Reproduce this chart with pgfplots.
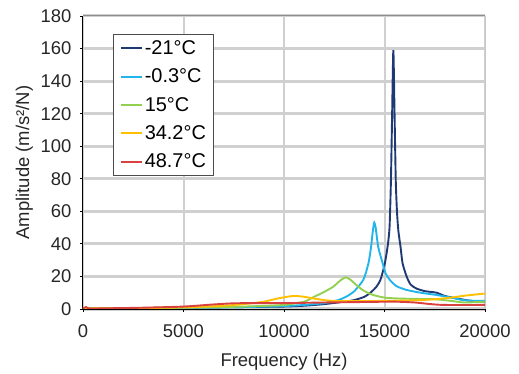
\documentclass[border=0pt]{standalone}
\usepackage{fontspec}
\setmainfont{Liberation Sans}
\usepackage{pgfplots}
\pgfplotsset{compat=1.18}
\definecolor{cNavy}{HTML}{1F3A73}
\definecolor{cLight}{HTML}{22B5EB}
\definecolor{cGreen}{HTML}{92D050}
\definecolor{cOrange}{HTML}{FFC000}
\definecolor{cRed}{HTML}{D9413E}
\definecolor{cGrid}{HTML}{D0D0D0}
\begin{document}
\begin{tikzpicture}
\begin{axis}[
  scale only axis,
  width=402bp, height=293bp,
  xmin=0, xmax=20000, ymin=0, ymax=180,
  xtick={0,5000,10000,15000,20000},
  ytick={0,20,...,180},
  scaled x ticks=false,
  /pgf/number format/1000 sep={},
  /pgf/number format/assume math mode=true,
  tick label style={font=\fontsize{18.5}{20}\selectfont, color=black!85},
  xticklabel style={yshift=-9bp},
  yticklabel style={xshift=-5bp},
  label style={font=\fontsize{18.5}{20}\selectfont, color=black!85},
  xlabel={Frequency (Hz)},
  ylabel={Amplitude (m/s²/N)},
  xlabel style={yshift=-9bp},
  ylabel style={yshift=1bp},
  xmajorgrids=true, ymajorgrids=true,
  x grid style={cGrid, line width=2bp},
  y grid style={cGrid, line width=3bp},
  axis x line*=bottom, axis y line*=left,
  axis line style={black, line width=1bp},
  tick align=outside,
  major tick length=3bp,
  tick style={black, line width=0.8bp},
  legend style={at={(0.0754,0.9386)}, anchor=north west, draw=black!70, line width=1bp,
    font=\fontsize{20}{22}\selectfont, row sep=9bp, inner xsep=6bp, inner ysep=4bp},
  legend cell align=left,
  legend image code/.code={\draw[#1, line width=2bp] (0bp,0bp) -- (21bp,0bp);},
  every axis plot/.append style={line width=1.9bp, smooth, tension=0.4},
]
\draw[black!45, line width=1bp] (rel axis cs:0,1) -- (rel axis cs:1,1) -- (rel axis cs:1,0);
\addplot[cNavy] coordinates {
(0,0.3) (2000,0.5) (5000,0.8) (8000,1.2) (10000,1.5) (11000,2) (12000,3) (13000,4.5)
(13500,5.5) (14000,7.5) (14300,10) (14600,13.7) (14800,18) (15000,27) (15150,38)
(15250,50) (15320,79) (15380,120) (15440,159) (15500,120) (15560,79) (15620,60)
(15690,48) (15800,38) (15900,28) (16100,20) (16300,15) (16600,12.5) (17000,11)
(17300,10.5) (17600,10) (18000,8) (18600,6.5) (19300,5) (20000,4.5)};
\addlegendentry{-21°C}
\addplot[cLight] coordinates {
(0,0.3) (5000,0.7) (8000,1.2) (10000,1.8) (11000,2.5) (12000,3.6) (12700,5.5)
(13100,7.6) (13500,11) (13950,18) (14200,28) (14330,38) (14420,48) (14490,53)
(14560,50) (14690,38) (14910,28) (15050,22) (15270,17.8) (15600,14) (16100,11.7)
(16800,10) (17600,8.6) (18300,7) (18900,5.5) (19500,5) (20000,5)};
\addlegendentry{-0.3°C}
\addplot[cGreen] coordinates {
(0,0.3) (5000,0.8) (8000,1.5) (10000,2.5) (11000,4.5) (11500,7.5) (12000,10.5)
(12450,13.7) (12800,17.5) (13070,19.5) (13300,18) (13700,13.7) (14000,11)
(14440,8.6) (15000,7) (15600,6.5) (16500,6.2) (17500,6) (18300,5) (19000,4) (20000,4.5)};
\addlegendentry{15°C}
\addplot[cOrange] coordinates {
(0,0.3) (3000,0.6) (5000,1) (7000,2) (8000,3) (9000,4.5) (9700,6.5) (10450,8)
(11000,7.5) (11700,6) (12400,5) (13500,4.8) (15000,5) (16500,5.3) (17500,6)
(18300,7) (19000,8.2) (20000,9.5)};
\addlegendentry{34.2°C}
\addplot[cRed] coordinates {
(0,0.3) (150,1.2) (300,0.3) (1000,0.4) (3000,0.8) (5000,1.5) (6500,2.8) (7500,3.5)
(8500,3.6) (10000,3.6) (12000,4) (14000,4.3) (15500,4.5) (16500,4) (17300,3)
(18000,2.5) (20000,2.5)};
\addlegendentry{48.7°C}
\end{axis}
\path (current axis.south west) ++(-83bp,-61bp) rectangle ++(519bp,370bp);
\end{tikzpicture}
\end{document}
